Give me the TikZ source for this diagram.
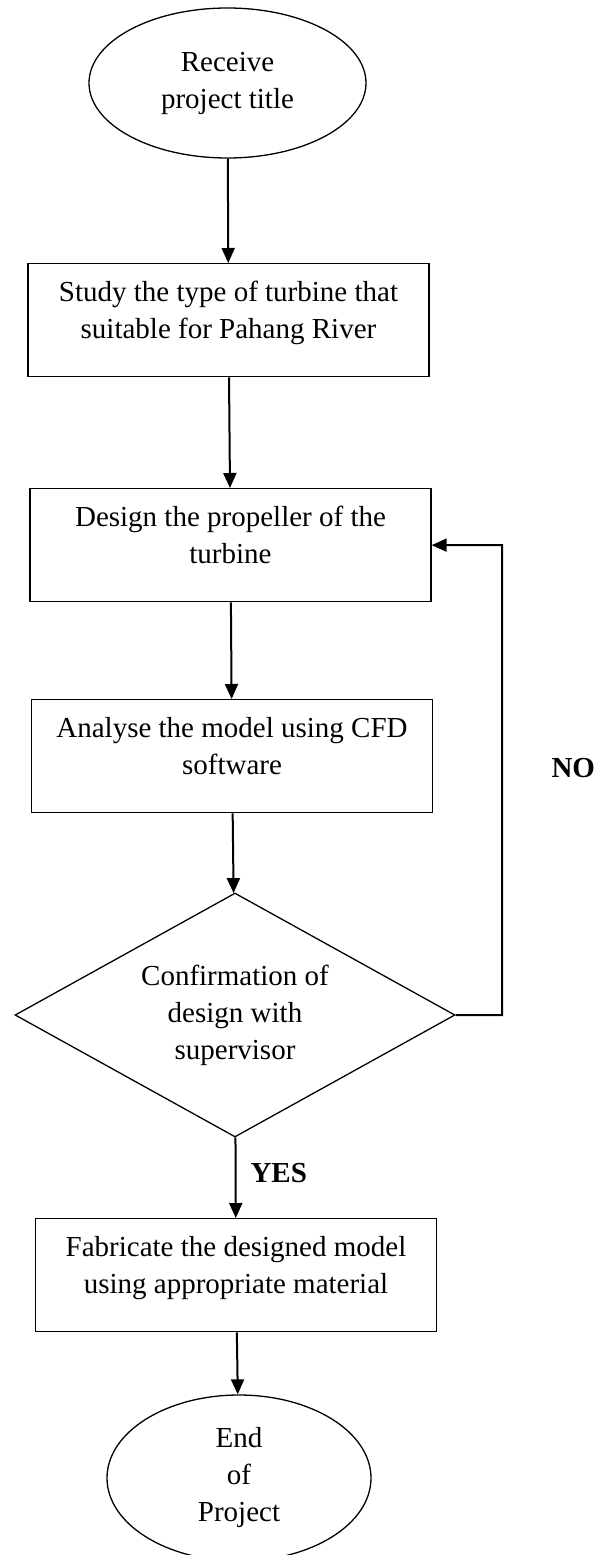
\documentclass[tikz,border=0pt]{standalone}
\usepackage{fontspec}
\setmainfont{Liberation Serif}
\usetikzlibrary{shapes.geometric,arrows.meta}

\begin{document}
\begin{tikzpicture}[
      x=1pt,y=-1pt,
      every node/.style={font=\fontsize{29}{37}\selectfont},
      terminal/.style={draw,ellipse,line width=1.3pt,inner sep=0pt,align=center},
      stepbox/.style={draw,rectangle,line width=1.3pt,minimum width=401pt,
        inner sep=0pt,text height=75pt,text depth=38pt,align=center,anchor=north},
      decision/.style={draw,diamond,aspect=1.8,line width=1.3pt,minimum width=440pt,
        minimum height=244pt,inner sep=0pt,align=center},
      answer/.style={font=\fontsize{29}{37}\selectfont\bfseries,anchor=base west},
      flow/.style={-{Triangle[length=15pt,width=13pt]},line width=2pt}
    ]
  \useasboundingbox (0,0) rectangle (595,1555);

  % start and end
  \node[terminal,minimum width=277pt,minimum height=150pt] (receive) at (227.5,83)
    {Receive\\project title};
  \node[terminal,minimum width=264pt,minimum height=166pt] (finish) at (239,1478)
    {End\\of\\Project};

  % steps
  \node[stepbox] (study) at (228.5,263)
    {Study the type of turbine that\\suitable for Pahang River};
  \node[stepbox] (design) at (230.5,488)
    {Design the propeller of the\\turbine};
  \node[stepbox] (analyse) at (232,699)
    {Analyse the model using CFD\\software};
  \node[decision] (confirm) at (235,1015)
    {Confirmation of\\design with\\supervisor};
  \node[stepbox] (fabricate) at (236,1218)
    {Fabricate the designed model\\using appropriate material};

  \node[answer] (yes) at (247,1182) {YES};
  \node[answer] (no) at (548,777) {NO};
  \coordinate (back) at (502,545);

  \draw[flow] (receive) -- (study);
  \draw[flow] (study) -- (design);
  \draw[flow] (design) -- (analyse);
  \draw[flow] (analyse) -- (confirm);
  \draw[flow] (confirm) -- (fabricate);
  \draw[flow] (fabricate) -- (finish);
  \draw[flow] (confirm.east) -| (back) -- (design.east);
\end{tikzpicture}
\end{document}
